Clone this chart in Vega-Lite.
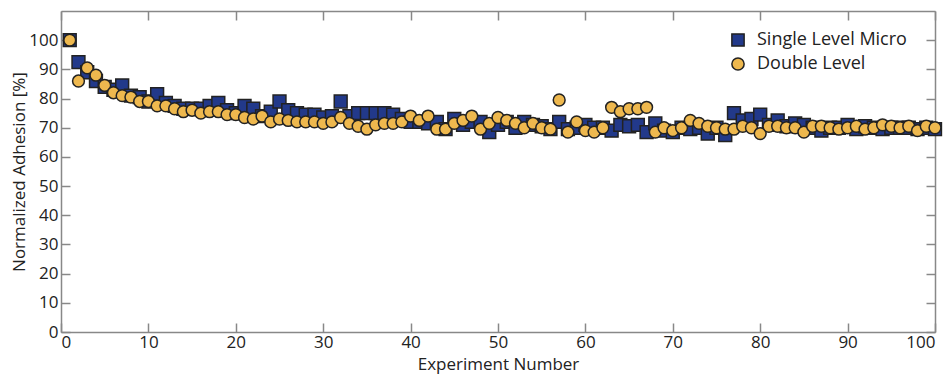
{
  "$schema": "https://vega.github.io/schema/vega-lite/v6.json",
  "autosize": {"type": "none"},
  "width": 874,
  "height": 321,
  "padding": {"left": 61, "top": 11, "right": 12, "bottom": 42},
  "background": "white",
  "config": {
    "view": {"stroke": null},
    "font": "Open Sans",
    "axis": {
      "domainColor": "#888888",
      "domainWidth": 1.5,
      "tickColor": "#888888",
      "tickWidth": 1.5,
      "tickSize": -9,
      "grid": false,
      "labelFont": "Open Sans",
      "labelFontSize": 17,
      "labelColor": "#222222",
      "titleFont": "Open Sans",
      "titleFontSize": 17,
      "titleFontWeight": "normal",
      "titleColor": "#222222"
    },
    "legend": {
      "labelFont": "Open Sans",
      "labelFontSize": 18,
      "labelColor": "#222222"
    }
  },
  "data": {
    "values": [
      {"n":1,"v":100,"s":"Single Level Micro"},{"n":2,"v":92.5,"s":"Single Level Micro"},{"n":3,"v":89,"s":"Single Level Micro"},{"n":4,"v":86,"s":"Single Level Micro"},{"n":5,"v":84,"s":"Single Level Micro"},{"n":6,"v":83,"s":"Single Level Micro"},{"n":7,"v":84.5,"s":"Single Level Micro"},{"n":8,"v":81,"s":"Single Level Micro"},{"n":9,"v":80.5,"s":"Single Level Micro"},{"n":10,"v":79,"s":"Single Level Micro"},
      {"n":11,"v":81.5,"s":"Single Level Micro"},{"n":12,"v":78.5,"s":"Single Level Micro"},{"n":13,"v":77.5,"s":"Single Level Micro"},{"n":14,"v":76.5,"s":"Single Level Micro"},{"n":15,"v":76.5,"s":"Single Level Micro"},{"n":16,"v":76.5,"s":"Single Level Micro"},{"n":17,"v":77.5,"s":"Single Level Micro"},{"n":18,"v":78.5,"s":"Single Level Micro"},{"n":19,"v":76,"s":"Single Level Micro"},{"n":20,"v":75,"s":"Single Level Micro"},
      {"n":21,"v":77.5,"s":"Single Level Micro"},{"n":22,"v":76.5,"s":"Single Level Micro"},{"n":23,"v":74,"s":"Single Level Micro"},{"n":24,"v":75.5,"s":"Single Level Micro"},{"n":25,"v":79,"s":"Single Level Micro"},{"n":26,"v":76,"s":"Single Level Micro"},{"n":27,"v":75,"s":"Single Level Micro"},{"n":28,"v":74.5,"s":"Single Level Micro"},{"n":29,"v":74.5,"s":"Single Level Micro"},{"n":30,"v":73.5,"s":"Single Level Micro"},
      {"n":31,"v":74,"s":"Single Level Micro"},{"n":32,"v":79,"s":"Single Level Micro"},{"n":33,"v":74,"s":"Single Level Micro"},{"n":34,"v":75,"s":"Single Level Micro"},{"n":35,"v":75,"s":"Single Level Micro"},{"n":36,"v":75,"s":"Single Level Micro"},{"n":37,"v":75,"s":"Single Level Micro"},{"n":38,"v":74.5,"s":"Single Level Micro"},{"n":39,"v":73,"s":"Single Level Micro"},{"n":40,"v":72,"s":"Single Level Micro"},
      {"n":41,"v":72,"s":"Single Level Micro"},{"n":42,"v":71.5,"s":"Single Level Micro"},{"n":43,"v":72,"s":"Single Level Micro"},{"n":44,"v":69.5,"s":"Single Level Micro"},{"n":45,"v":73,"s":"Single Level Micro"},{"n":46,"v":71,"s":"Single Level Micro"},{"n":47,"v":72,"s":"Single Level Micro"},{"n":48,"v":72,"s":"Single Level Micro"},{"n":49,"v":68.5,"s":"Single Level Micro"},{"n":50,"v":71,"s":"Single Level Micro"},
      {"n":51,"v":72,"s":"Single Level Micro"},{"n":52,"v":70,"s":"Single Level Micro"},{"n":53,"v":72,"s":"Single Level Micro"},{"n":54,"v":71,"s":"Single Level Micro"},{"n":55,"v":70.5,"s":"Single Level Micro"},{"n":56,"v":69.5,"s":"Single Level Micro"},{"n":57,"v":72,"s":"Single Level Micro"},{"n":58,"v":69.5,"s":"Single Level Micro"},{"n":59,"v":70,"s":"Single Level Micro"},{"n":60,"v":71,"s":"Single Level Micro"},
      {"n":61,"v":70,"s":"Single Level Micro"},{"n":62,"v":70,"s":"Single Level Micro"},{"n":63,"v":69,"s":"Single Level Micro"},{"n":64,"v":71,"s":"Single Level Micro"},{"n":65,"v":70.5,"s":"Single Level Micro"},{"n":66,"v":71,"s":"Single Level Micro"},{"n":67,"v":68.5,"s":"Single Level Micro"},{"n":68,"v":71.5,"s":"Single Level Micro"},{"n":69,"v":69,"s":"Single Level Micro"},{"n":70,"v":68.5,"s":"Single Level Micro"},
      {"n":71,"v":70,"s":"Single Level Micro"},{"n":72,"v":69.5,"s":"Single Level Micro"},{"n":73,"v":70,"s":"Single Level Micro"},{"n":74,"v":68,"s":"Single Level Micro"},{"n":75,"v":70,"s":"Single Level Micro"},{"n":76,"v":67.5,"s":"Single Level Micro"},{"n":77,"v":75,"s":"Single Level Micro"},{"n":78,"v":72.5,"s":"Single Level Micro"},{"n":79,"v":73,"s":"Single Level Micro"},{"n":80,"v":74.5,"s":"Single Level Micro"},
      {"n":81,"v":71,"s":"Single Level Micro"},{"n":82,"v":72.5,"s":"Single Level Micro"},{"n":83,"v":70.5,"s":"Single Level Micro"},{"n":84,"v":71.5,"s":"Single Level Micro"},{"n":85,"v":71,"s":"Single Level Micro"},{"n":86,"v":70,"s":"Single Level Micro"},{"n":87,"v":69,"s":"Single Level Micro"},{"n":88,"v":70,"s":"Single Level Micro"},{"n":89,"v":70,"s":"Single Level Micro"},{"n":90,"v":71,"s":"Single Level Micro"},
      {"n":91,"v":69.5,"s":"Single Level Micro"},{"n":92,"v":70.5,"s":"Single Level Micro"},{"n":93,"v":70,"s":"Single Level Micro"},{"n":94,"v":69.5,"s":"Single Level Micro"},{"n":95,"v":70,"s":"Single Level Micro"},{"n":96,"v":70,"s":"Single Level Micro"},{"n":97,"v":70,"s":"Single Level Micro"},{"n":98,"v":69.5,"s":"Single Level Micro"},{"n":99,"v":70,"s":"Single Level Micro"},{"n":100,"v":69.5,"s":"Single Level Micro"},
      {"n":1,"v":100,"s":"Double Level"},{"n":2,"v":86,"s":"Double Level"},{"n":3,"v":90.5,"s":"Double Level"},{"n":4,"v":88,"s":"Double Level"},{"n":5,"v":84.5,"s":"Double Level"},{"n":6,"v":82,"s":"Double Level"},{"n":7,"v":81,"s":"Double Level"},{"n":8,"v":80.5,"s":"Double Level"},{"n":9,"v":79,"s":"Double Level"},{"n":10,"v":79,"s":"Double Level"},
      {"n":11,"v":77.5,"s":"Double Level"},{"n":12,"v":77.5,"s":"Double Level"},{"n":13,"v":76.5,"s":"Double Level"},{"n":14,"v":75.5,"s":"Double Level"},{"n":15,"v":76,"s":"Double Level"},{"n":16,"v":75,"s":"Double Level"},{"n":17,"v":75.5,"s":"Double Level"},{"n":18,"v":75.5,"s":"Double Level"},{"n":19,"v":74.5,"s":"Double Level"},{"n":20,"v":74.5,"s":"Double Level"},
      {"n":21,"v":73.5,"s":"Double Level"},{"n":22,"v":73,"s":"Double Level"},{"n":23,"v":74,"s":"Double Level"},{"n":24,"v":72,"s":"Double Level"},{"n":25,"v":73,"s":"Double Level"},{"n":26,"v":72.5,"s":"Double Level"},{"n":27,"v":72,"s":"Double Level"},{"n":28,"v":72,"s":"Double Level"},{"n":29,"v":72,"s":"Double Level"},{"n":30,"v":71.5,"s":"Double Level"},
      {"n":31,"v":72,"s":"Double Level"},{"n":32,"v":73.5,"s":"Double Level"},{"n":33,"v":71.5,"s":"Double Level"},{"n":34,"v":70.5,"s":"Double Level"},{"n":35,"v":69.5,"s":"Double Level"},{"n":36,"v":71,"s":"Double Level"},{"n":37,"v":71.5,"s":"Double Level"},{"n":38,"v":71.5,"s":"Double Level"},{"n":39,"v":72,"s":"Double Level"},{"n":40,"v":74,"s":"Double Level"},
      {"n":41,"v":72.5,"s":"Double Level"},{"n":42,"v":74,"s":"Double Level"},{"n":43,"v":69.5,"s":"Double Level"},{"n":44,"v":69.5,"s":"Double Level"},{"n":45,"v":71.5,"s":"Double Level"},{"n":46,"v":72.5,"s":"Double Level"},{"n":47,"v":74,"s":"Double Level"},{"n":48,"v":69.5,"s":"Double Level"},{"n":49,"v":71.5,"s":"Double Level"},{"n":50,"v":73.5,"s":"Double Level"},
      {"n":51,"v":72.5,"s":"Double Level"},{"n":52,"v":71.5,"s":"Double Level"},{"n":53,"v":70,"s":"Double Level"},{"n":54,"v":71.5,"s":"Double Level"},{"n":55,"v":70,"s":"Double Level"},{"n":56,"v":69.5,"s":"Double Level"},{"n":57,"v":79.5,"s":"Double Level"},{"n":58,"v":68.5,"s":"Double Level"},{"n":59,"v":72,"s":"Double Level"},{"n":60,"v":69,"s":"Double Level"},
      {"n":61,"v":68.5,"s":"Double Level"},{"n":62,"v":70,"s":"Double Level"},{"n":63,"v":77,"s":"Double Level"},{"n":64,"v":75.5,"s":"Double Level"},{"n":65,"v":76.5,"s":"Double Level"},{"n":66,"v":76.5,"s":"Double Level"},{"n":67,"v":77,"s":"Double Level"},{"n":68,"v":68.5,"s":"Double Level"},{"n":69,"v":70,"s":"Double Level"},{"n":70,"v":69,"s":"Double Level"},
      {"n":71,"v":70,"s":"Double Level"},{"n":72,"v":72.5,"s":"Double Level"},{"n":73,"v":71.5,"s":"Double Level"},{"n":74,"v":70.5,"s":"Double Level"},{"n":75,"v":70,"s":"Double Level"},{"n":76,"v":69.5,"s":"Double Level"},{"n":77,"v":69.5,"s":"Double Level"},{"n":78,"v":70.5,"s":"Double Level"},{"n":79,"v":70,"s":"Double Level"},{"n":80,"v":68,"s":"Double Level"},
      {"n":81,"v":70.5,"s":"Double Level"},{"n":82,"v":70.5,"s":"Double Level"},{"n":83,"v":70,"s":"Double Level"},{"n":84,"v":70,"s":"Double Level"},{"n":85,"v":68.5,"s":"Double Level"},{"n":86,"v":70.5,"s":"Double Level"},{"n":87,"v":70.5,"s":"Double Level"},{"n":88,"v":70,"s":"Double Level"},{"n":89,"v":69.5,"s":"Double Level"},{"n":90,"v":70,"s":"Double Level"},
      {"n":91,"v":70.5,"s":"Double Level"},{"n":92,"v":69.5,"s":"Double Level"},{"n":93,"v":70,"s":"Double Level"},{"n":94,"v":71,"s":"Double Level"},{"n":95,"v":70.5,"s":"Double Level"},{"n":96,"v":70,"s":"Double Level"},{"n":97,"v":70.5,"s":"Double Level"},{"n":98,"v":69,"s":"Double Level"},{"n":99,"v":70.5,"s":"Double Level"},{"n":100,"v":70,"s":"Double Level"}
    ]
  },
  "encoding": {
    "color": {
      "field": "s", "type": "nominal",
      "scale": {"domain": ["Single Level Micro", "Double Level"], "range": ["#22398a", "#eeb84e"]},
      "legend": {"title": null, "orient": "none", "legendX": 668, "legendY": 20, "symbolSize": 150, "symbolStrokeColor": "#222222", "symbolStrokeWidth": 1.5, "rowPadding": 4, "labelOffset": 10}
    },
    "shape": {
      "field": "s", "type": "nominal",
      "scale": {"domain": ["Single Level Micro", "Double Level"], "range": ["square", "circle"]},
      "legend": {"title": null, "orient": "none", "legendX": 668, "legendY": 20, "symbolSize": 150, "symbolStrokeColor": "#222222", "symbolStrokeWidth": 1.5, "rowPadding": 4, "labelOffset": 10}
    }
  },
  "layer": [
    {
      "transform": [{"filter": "datum.s == 'Single Level Micro'"}],
      "mark": {"type": "point", "filled": true, "size": 165, "stroke": "#222222", "strokeWidth": 1.5, "opacity": 1},
      "encoding": {
        "x": {"field": "n", "type": "quantitative", "scale": {"domain": [0, 100], "nice": false},
              "axis": {"orient": "bottom", "values": [0,10,20,30,40,50,60,70,80,90,100], "title": "Experiment Number", "labelPadding": 11, "titlePadding": 6}},
        "y": {"field": "v", "type": "quantitative", "scale": {"domain": [0, 110], "nice": false},
              "axis": {"orient": "left", "values": [0,10,20,30,40,50,60,70,80,90,100], "title": "Normalized Adhesion [%]", "labelPadding": 12, "titlePadding": 0}}
      }
    },
    {
      "transform": [{"filter": "datum.s == 'Double Level'"}],
      "mark": {"type": "point", "filled": true, "size": 140, "stroke": "#222222", "strokeWidth": 1.5, "opacity": 1},
      "encoding": {
        "x": {"field": "n", "type": "quantitative", "scale": {"domain": [0, 100], "nice": false},
              "axis": {"orient": "top", "values": [0,10,20,30,40,50,60,70,80,90,100], "labels": false, "title": null}},
        "y": {"field": "v", "type": "quantitative", "scale": {"domain": [0, 110], "nice": false},
              "axis": {"orient": "right", "values": [0,10,20,30,40,50,60,70,80,90,100], "labels": false, "title": null}}
      }
    }
  ],
  "resolve": {"axis": {"x": "independent", "y": "independent"}}
}
